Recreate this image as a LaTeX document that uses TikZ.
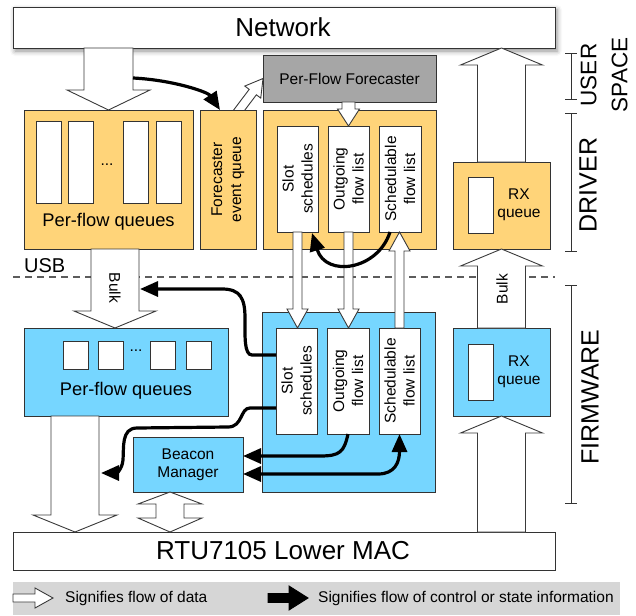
\documentclass[tikz,border=0pt]{standalone}
\usepackage{fontspec}
\setmainfont{Liberation Sans}
\usetikzlibrary{arrows.meta,calc,shadows.blur}
\definecolor{orangec}{HTML}{FFD479}
\definecolor{bluec}{HTML}{76D6FF}
\definecolor{grayc}{HTML}{A6A6A6}
\definecolor{legc}{HTML}{D6D6D6}
\definecolor{linec}{HTML}{333333}
\definecolor{arrowc}{HTML}{3A3A3A}
\newcommand\fatarrow[6][]{%
  \coordinate (ha0) at (#2); \coordinate (ha1) at (#3);
  \coordinate (hab) at ($(ha1)!#6!(ha0)$);
  \draw[hollow,#1] ($(ha0)!#4!90:(ha1)$) -- ($(hab)!#4!90:(ha1)$) -- ($(hab)!#5!90:(ha1)$) -- (ha1)
    -- ($(hab)!#5!-90:(ha1)$) -- ($(hab)!#4!-90:(ha1)$) -- ($(ha0)!#4!-90:(ha1)$) -- cycle;}
\newcommand\fatdarrow[7][]{%
  \coordinate (ha0) at (#2); \coordinate (ha1) at (#3);
  \coordinate (hab) at ($(ha1)!#6!(ha0)$);
  \coordinate (hac) at ($(ha0)!#7!(ha1)$);
  \draw[hollow,#1] (ha0) -- ($(hac)!#5!90:(ha1)$) -- ($(hac)!#4!90:(ha1)$) -- ($(hab)!#4!90:(ha1)$) -- ($(hab)!#5!90:(ha1)$) -- (ha1)
    -- ($(hab)!#5!-90:(ha1)$) -- ($(hab)!#4!-90:(ha1)$) -- ($(hac)!#4!-90:(ha1)$) -- ($(hac)!#5!-90:(ha1)$) -- cycle;}
\tikzset{
  box/.style={draw=linec, line width=0.9pt, inner sep=0pt, outer sep=0pt, anchor=north west},
  obox/.style={box, fill=orangec},
  bbox/.style={box, fill=bluec},
  wbox/.style={box, fill=white},
  lbl/.style={font=\fontsize{15.5}{19}\selectfont, align=center, inner sep=0pt},
  biglbl/.style={font=\fontsize{26}{30}\selectfont, inner sep=0pt},
  sidelbl/.style={font=\fontsize{25}{31}\selectfont, align=center, inner sep=0pt, rotate=90},
  ctrl/.style={line width=3.2pt, -{Triangle[length=18pt,width=15pt]}},
  ctrlboth/.style={line width=3.2pt, {Triangle[length=18pt,width=15pt]}-{Triangle[length=18pt,width=15pt]}},
  hollow/.style={fill=white, draw=arrowc, line width=0.9pt, line join=miter},
  brack/.style={draw=linec, line width=1pt},
}
\begin{document}
\begin{tikzpicture}[x=1pt,y=-1pt]
\useasboundingbox (0,0) rectangle (636,615);
% legend band
\node[box, draw=none, fill=legc, minimum width=607pt, minimum height=33pt] (leg) at (13,582) {};
% diagonal hollow arrow (tail hidden under the event queue box)
\coordinate (dgA) at (234,117);
\coordinate (dgB) at (263,78.5);
\fatarrow{dgA}{dgB}{4.5pt}{10pt}{17pt}
% containers
\node[wbox, minimum width=542pt, minimum height=41pt,
  blur shadow={shadow xshift=2pt, shadow yshift=-3pt, shadow blur radius=5pt, shadow opacity=45}] (net) at (13,7) {};
\node[wbox, minimum width=542pt, minimum height=38pt] (mac) at (13,532) {};
\node[obox, minimum width=169pt, minimum height=139pt] (dpq) at (24,110) {};
\node[obox, minimum width=56pt, minimum height=139pt] (feq) at (200,110) {};
\node[box, fill=grayc, minimum width=173pt, minimum height=47pt] (pff) at (263,55) {};
\node[obox, minimum width=173pt, minimum height=139pt] (dsch) at (263,110) {};
\node[obox, minimum width=97pt, minimum height=87pt] (drx) at (453,162) {};
\node[bbox, minimum width=204pt, minimum height=88pt] (fpq) at (24,328) {};
\node[bbox, minimum width=110pt, minimum height=55pt] (bm) at (133,437) {};
\node[bbox, minimum width=173pt, minimum height=180pt] (fsch) at (262,312) {};
\node[bbox, minimum width=97pt, minimum height=88pt] (frx) at (453,328) {};
% inner boxes, driver
\node[wbox, minimum width=25pt, minimum height=82pt] (dq1) at (36,121) {};
\node[wbox, minimum width=25pt, minimum height=82pt] (dq2) at (68,121) {};
\node[wbox, minimum width=25pt, minimum height=82pt] (dq3) at (123,121) {};
\node[wbox, minimum width=25pt, minimum height=82pt] (dq4) at (156,121) {};
\node[wbox, minimum width=41pt, minimum height=106pt] (dslot) at (277,126) {};
\node[wbox, minimum width=41pt, minimum height=106pt] (dout) at (328,126) {};
\node[wbox, minimum width=42pt, minimum height=106pt] (dsfl) at (379,126) {};
\node[wbox, minimum width=25pt, minimum height=56pt] (drxq) at (468,177) {};
% inner boxes, firmware
\node[wbox, minimum width=25pt, minimum height=28pt] (fq1) at (63,341) {};
\node[wbox, minimum width=25pt, minimum height=28pt] (fq2) at (98,341) {};
\node[wbox, minimum width=25pt, minimum height=28pt] (fq3) at (150,341) {};
\node[wbox, minimum width=25pt, minimum height=28pt] (fq4) at (186,341) {};
\node[wbox, minimum width=41pt, minimum height=106pt] (fslot) at (276,328) {};
\node[wbox, minimum width=42pt, minimum height=106pt] (fout) at (327,328) {};
\node[wbox, minimum width=41pt, minimum height=106pt] (fsfl) at (379,328) {};
\node[wbox, minimum width=25pt, minimum height=56pt] (frxq) at (468,344) {};
% USB boundary
\coordinate (usbL) at (13,277);
\coordinate (usbR) at (555,277);
\draw[draw=linec!80, line width=1.1pt, dash pattern=on 7pt off 5pt] (usbL) -- (usbR);
\node[font=\fontsize{20}{24}\selectfont, inner sep=0pt, anchor=west] (usb) at (24,266) {USB};
% hollow data arrows
\fatarrow{dpq.north|-net.south}{dpq.north}{24.5pt}{41.5pt}{20pt}
\fatarrow{drx.north}{drx.north|-net.south}{24pt}{41pt}{17pt}
\fatarrow{$(dpq.south)+(6.5,0)$}{$(fpq.north)+(-11,0)$}{24pt}{41pt}{17pt}
\fatarrow{frx.north}{drx.south}{24pt}{41pt}{17pt}
\fatarrow{frx.south|-mac.north}{frx.south}{24pt}{41pt}{17pt}
\coordinate (fpqout) at ($(fpq.south west)+(51,0)$);
\fatarrow{fpqout}{fpqout|-mac.north}{24pt}{42pt}{17pt}
\coordinate (bmdown) at ($(bm.south west)+(37,0)$);
\fatdarrow{bmdown}{bmdown|-mac.north}{14pt}{32pt}{14pt}{12pt}
\fatarrow{dslot.south}{dslot.south|-fslot.north}{4.5pt}{10.5pt}{19pt}
\fatarrow{dout.south}{dout.south|-fout.north}{4.5pt}{10.5pt}{19pt}
\fatarrow{fsfl.north}{fsfl.north|-dsfl.south}{4.5pt}{10.5pt}{19pt}
\fatarrow{dout.north|-pff.south}{dout.north}{6.5pt}{11pt}{17pt}
% control arrows
\coordinate (netR) at ($(dpq.north|-net.south)+(24.5,30)$);
\draw[ctrl] (netR) .. controls +(40,2) and +(-12,-18) .. ($(feq.north)+(-8,0)$);
\draw[ctrl] ($(dsfl.south)+(-10,0)$) .. controls +(-12,38) and +(14,45) .. ($(dslot.south east)+(-6,1)$);
\coordinate (bulkR) at (140,289);
\draw[ctrl] ($(fslot.west)+(0,-26)$) -- (252,355) .. controls (244,355) and (245,336) .. (245,318)
  .. controls (245,298) and (240,289) .. (222,289) -- (bulkR);
\coordinate (fpqR) at (101,473);
\draw[ctrl] ($(fslot.west)+(0,27)$) -- (250,408) .. controls (240,408) and (243,427) .. (228,427)
  -- (137,428) .. controls (121,428) and (124,448) .. (123,460) .. controls (122,470) and (116,473) .. (fpqR);
\draw[ctrl] (fout.south) .. controls +(-4,18) and +(20,0) .. (320,456) -- ($(bm.east)+(0,-8.5)$);
\draw[ctrlboth] ($(bm.east)+(0,9.5)$) -- (378,474) .. controls (395,474) and (399.5,462) .. (fsfl.south);
% texts
\node[biglbl] (tnet) at (283,27) {Network};
\node[biglbl] (tmac) at (283,551) {RTU7105 Lower MAC};
\node[lbl, font=\fontsize{18.3}{22}\selectfont] (tdpq) at (108.5,222) {Per-flow queues};
\node[lbl, font=\fontsize{18.3}{22}\selectfont] (tfpq) at (126,391) {Per-flow queues};
\node[lbl, anchor=base] (ddots) at (107,165) {...};
\node[lbl, anchor=base] (fdots) at (136,351) {...};
\node[lbl, rotate=90] (tfeq) at (feq) {Forecaster\\event queue};
\node[lbl] (tpff) at (pff) {Per-Flow Forecaster};
\node[lbl, rotate=90] (tdslot) at (dslot) {Slot\\schedules};
\node[lbl, rotate=90] (tdout) at (dout) {Outgoing\\flow list};
\node[lbl, rotate=90] (tdsfl) at (dsfl) {Schedulable\\flow list};
\node[lbl, rotate=90] (tfslot) at (fslot) {Slot\\schedules};
\node[lbl, rotate=90] (tfout) at (fout) {Outgoing\\flow list};
\node[lbl, rotate=90] (tfsfl) at (fsfl) {Schedulable\\flow list};
\node[lbl, font=\fontsize{15.5}{17.5}\selectfont] (tdrx) at (519,205) {RX\\queue};
\node[lbl, font=\fontsize{15.5}{17.5}\selectfont] (tfrx) at (519,372) {RX\\queue};
\node[lbl, font=\fontsize{15.5}{18}\selectfont] (tbm) at (bm) {Beacon\\Manager};
\node[lbl, rotate=-90] (tbulk1) at (115,288) {Bulk};
\node[lbl, rotate=90] (tbulk2) at (502,289) {Bulk};
% side brackets
\draw[brack] (571,54) -- (571,100) (565,54) -- (577,54) (565,100) -- (577,100);
\draw[brack] (571,113) -- (571,251) (565,113) -- (577,113) (565,251) -- (577,251);
\draw[brack] (571,285) -- (571,503) (565,285) -- (577,285) (565,503) -- (577,503);
\node[sidelbl, font=\fontsize{22.5}{31}\selectfont] (tuser) at (604,75) {USER\\SPACE};
\node[sidelbl] (tdrv) at (588,185) {DRIVER};
\node[sidelbl] (tfw) at (590,397) {FIRMWARE};
% legend
\coordinate (lgA) at (13,598);
\coordinate (lgB) at (53,598);
\fatarrow{lgA}{lgB}{4pt}{10pt}{18pt}
\node[lbl, anchor=west] (tleg1) at (65,598) {Signifies flow of data};
\coordinate (lgC) at (268,598);
\coordinate (lgD) at (308,598);
\fatarrow[fill=black, draw=black]{lgC}{lgD}{4.5pt}{12pt}{19pt}
\node[lbl, anchor=west] (tleg2) at (318,598) {Signifies flow of control or state information};
\end{tikzpicture}
\end{document}
